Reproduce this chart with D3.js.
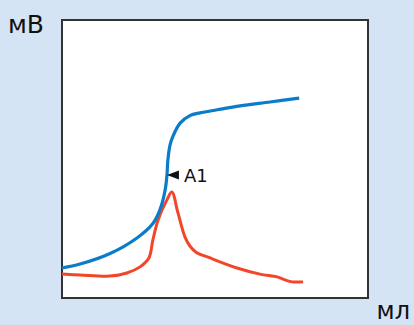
<!DOCTYPE html>
<html>
<head>
<meta charset="utf-8">
<script src="https://cdn.jsdelivr.net/npm/d3@7"></script>
<style>
	html, body { margin: 0; padding: 0; background: #d5e4f5; }
	svg { display: block; }
</style>
</head>
<body>
<div id="graph"></div>
<script>
// titration curves (x: 0-100, y: 0-100 relative units)
const blue_x = [0, 5.9, 15.7, 24.5, 29.7, 32.0, 33.7, 34.3, 34.6, 35.3, 36.3, 38.6, 41.8, 45.1, 50.7, 58.2, 68.0, 77.5];
const blue_y = [10.8, 12.2, 16.0, 21.6, 26.8, 31.7, 38.8, 44.2, 49.6, 55.0, 58.3, 62.9, 65.6, 66.6, 67.7, 69.1, 70.5, 71.9];
const red_x = [0, 5.9, 15.7, 21.2, 25.5, 28.4, 29.7, 31.4, 34.3, 35.9, 37.9, 40.2, 41.8, 43.8, 48.4, 57.2, 64.7, 70.3, 72.9, 75.2, 78.8];
const red_y = [8.6, 8.3, 7.9, 9.0, 11.2, 14.4, 20.9, 28.1, 35.3, 38.1, 30.6, 21.9, 18.7, 16.5, 14.4, 10.8, 8.6, 7.6, 6.5, 5.8, 5.8];
const marker = {label: "A1", x: 34.3, y: 44.2};
const y_label = "мВ", x_label = "мл";

const params = {
		width: 414,
		height: 325,
		left: 62,
		top: 20,
		right: 368,
		bottom: 298,
		blue: "#0a7cc9",
		red: "#f2462a",
		font: "'DejaVu Sans', sans-serif"
	},
	root_graph = d3.select('#graph');

const x = d3.scaleLinear().domain([0, 100]).range([params.left, params.right]),
	y = d3.scaleLinear().domain([0, 100]).range([params.bottom, params.top]);

const svg = root_graph.append("svg")
	.attr("width", params.width)
	.attr("height", params.height);

// plot frame
svg.append("rect")
	.attr("x", params.left)
	.attr("y", params.top)
	.attr("width", params.right - params.left)
	.attr("height", params.bottom - params.top)
	.attr("fill", "#fff")
	.attr("stroke", "#333")
	.attr("stroke-width", 2);

const line = d3.line()
	.x(d => x(d[0]))
	.y(d => y(d[1]))
	.curve(d3.curveCatmullRom.alpha(0.5));

svg.append("path")
	.datum(d3.zip(red_x, red_y))
	.attr("d", line)
	.attr("fill", "none")
	.attr("stroke", params.red)
	.attr("stroke-width", 3);

svg.append("path")
	.datum(d3.zip(blue_x, blue_y))
	.attr("d", line)
	.attr("fill", "none")
	.attr("stroke", params.blue)
	.attr("stroke-width", 3.2);

// A1 marker: arrowhead pointing at the curve
const mx = x(marker.x), my = y(marker.y);
svg.append("path")
	.attr("d", `M${mx},${my} L${mx + 12},${my - 4.5} L${mx + 12},${my + 4.5} Z`)
	.attr("fill", "#111");
svg.append("text")
	.attr("x", mx + 17)
	.attr("y", my + 7)
	.attr("font-family", params.font)
	.attr("font-size", 18)
	.attr("fill", "#111")
	.text(marker.label);

// axis labels
svg.append("text")
	.attr("x", 8)
	.attr("y", 33)
	.attr("font-family", params.font)
	.attr("font-size", 25)
	.attr("fill", "#111")
	.text(y_label);
svg.append("text")
	.attr("x", 410)
	.attr("y", 319)
	.attr("text-anchor", "end")
	.attr("font-family", params.font)
	.attr("font-size", 24)
	.attr("fill", "#111")
	.text(x_label);
</script>
</body>
</html>
